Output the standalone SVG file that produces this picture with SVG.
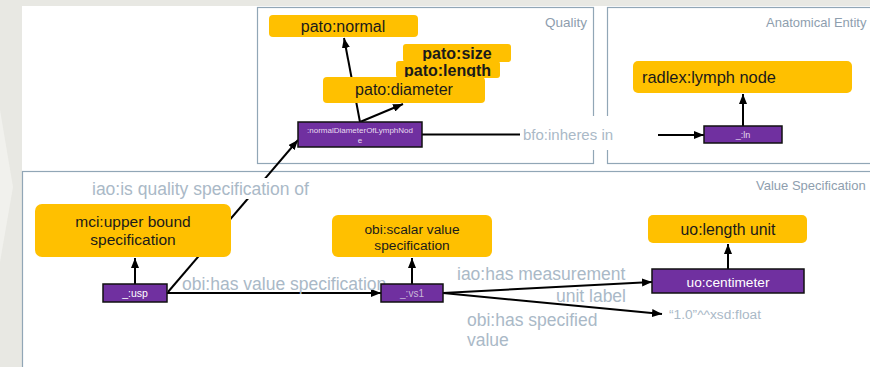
<svg xmlns="http://www.w3.org/2000/svg" width="870" height="367" viewBox="0 0 870 367">
<defs>
<marker id="arr" markerWidth="10" markerHeight="8" refX="10" refY="4" orient="auto" markerUnits="userSpaceOnUse">
<path d="M0,0 L10,4 L0,8 Z" fill="#000"/>
</marker>
<style>
.frame{fill:none;stroke:#91a6b6;stroke-width:1.2}
.title{font-family:"Liberation Sans",Arial,sans-serif;font-size:13.5px;fill:#8e9eae}
.cls{fill:#ffc000}
.ind{fill:#7030a0;stroke:#111;stroke-width:1.5}
.t{font-family:"Liberation Sans",Arial,sans-serif;fill:#1a1a1a;text-anchor:middle}
.w{font-family:"Liberation Sans",Arial,sans-serif;fill:#e8dcf0;text-anchor:middle}
.lbl{font-family:"Liberation Sans",Arial,sans-serif;font-size:17.5px;fill:#aab9c7}
.edge{stroke:#000;stroke-width:2;fill:none}
</style>
</defs>
<rect width="870" height="367" fill="#e8e8e3"/>
<polygon points="0,110 13,187 0,262" fill="#f1f1ed"/>
<rect x="22" y="6" width="848" height="361" fill="#fff"/>

<g id="frames">
<rect class="frame" x="257.5" y="7.5" width="336" height="156"/>
<text class="title" x="587" y="27" text-anchor="end">Quality</text>
<rect class="frame" x="607.5" y="7.5" width="270" height="156"/>
<text class="title" x="766" y="27" style="font-size:13px">Anatomical Entity</text>
<rect class="frame" x="22.5" y="171.5" width="860" height="200"/>
<text class="title" x="756" y="190" style="font-size:13px">Value Specification</text>
</g>

<g id="connectors">
<line class="edge" x1="360" y1="122" x2="344" y2="38" marker-end="url(#arr)"/>
<line class="edge" x1="360" y1="122" x2="403" y2="104" marker-end="url(#arr)"/>
<line class="edge" x1="422" y1="134.5" x2="525" y2="134.5"/>
<line class="edge" x1="658" y1="135" x2="704" y2="135" marker-end="url(#arr)"/>
<line class="edge" x1="743" y1="126" x2="743" y2="94" marker-end="url(#arr)"/>
<line class="edge" x1="168" y1="292" x2="298" y2="140" marker-end="url(#arr)"/>
<line class="edge" x1="135" y1="284" x2="135" y2="258" marker-end="url(#arr)"/>
<line class="edge" x1="167" y1="293" x2="381" y2="293" marker-end="url(#arr)"/>
<line class="edge" x1="412" y1="284" x2="412" y2="258" marker-end="url(#arr)"/>
<line class="edge" x1="443" y1="293" x2="652" y2="282" marker-end="url(#arr)"/>
<line class="edge" x1="443" y1="293" x2="662" y2="314" marker-end="url(#arr)"/>
<line class="edge" x1="728" y1="269" x2="728" y2="244" marker-end="url(#arr)"/>
<rect x="520" y="116" width="92" height="34" fill="#fff"/>
<text class="lbl" x="523" y="140" style="font-size:15px">bfo:inheres in</text>
<rect x="88" y="178" width="226" height="21" fill="#fff"/>
<text class="lbl" x="92" y="195">iao:is quality specification of</text>
<text class="lbl" x="182" y="290">obi:has value specification</text>
<text class="lbl" x="457" y="280">iao:has measurement</text>
<text class="lbl" x="626" y="302" text-anchor="end">unit label</text>
<text class="lbl" x="467" y="326">obi:has specified</text>
<text class="lbl" x="467" y="346">value</text>
<text class="lbl" x="669" y="319" style="font-size:13.7px">“1.0”^^xsd:float</text>
</g>

<g id="pato_normal">
<rect class="cls" x="269" y="15" width="149" height="22" rx="4"/>
<text class="t" x="343" y="32" font-size="16">pato:normal</text>
</g>
<g id="pato_size">
<rect class="cls" x="403" y="44" width="108" height="18" rx="3"/>
<text class="t" x="457" y="59" font-size="16" font-weight="bold">pato:size</text>
</g>
<g id="pato_length">
<rect class="cls" x="396" y="61" width="104" height="17" rx="3"/>
<text class="t" x="447.5" y="75.5" font-size="16" font-weight="bold">pato:length</text>
</g>
<g id="pato_diameter">
<rect class="cls" x="323" y="77" width="162" height="26" rx="4"/>
<text class="t" x="404" y="95" font-size="16">pato:diameter</text>
</g>
<g id="normalDiameterOfLymphNode">
<rect class="ind" x="298" y="122" width="124" height="25"/>
<text class="w" x="360" y="133" font-size="8">:normalDiameterOfLymphNod</text>
<text class="w" x="360" y="143" font-size="8">e</text>
</g>
<g id="radlex_lymph_node">
<rect class="cls" x="633" y="61" width="219" height="32" rx="5"/>
<text class="t" x="642" y="83" font-size="16.4" style="text-anchor:start">radlex:lymph node</text>
</g>
<g id="ln">
<rect class="ind" x="704" y="126" width="78" height="17"/>
<text class="w" x="743" y="138" font-size="9">_:ln</text>
</g>
<g id="upper_bound">
<rect class="cls" x="35" y="204" width="196" height="53" rx="7"/>
<text class="t" x="133" y="227" font-size="15.5">mci:upper bound</text>
<text class="t" x="133" y="245" font-size="15.5">specification</text>
</g>
<g id="usp">
<rect class="ind" x="103" y="284" width="64" height="18"/>
<text class="w" x="135" y="297" font-size="10.5" style="fill:#fff">_:usp</text>
</g>
<g id="scalar_value">
<rect class="cls" x="332" y="215" width="160" height="42" rx="6"/>
<text class="t" x="412" y="234" font-size="13.7">obi:scalar value</text>
<text class="t" x="412" y="250" font-size="13.7">specification</text>
</g>
<g id="vs1">
<rect class="ind" x="381" y="284" width="62" height="18"/>
<text class="w" x="412" y="297" font-size="10" style="fill:#c9b8d8">_:vs1</text>
</g>
<g id="length_unit">
<rect class="cls" x="648" y="215" width="159" height="28" rx="5"/>
<text class="t" x="728" y="235" font-size="15.8">uo:length unit</text>
</g>
<g id="centimeter">
<rect class="ind" x="652" y="269" width="152" height="24"/>
<text class="w" x="728" y="286.5" font-size="13.7" style="fill:#fff">uo:centimeter</text>
</g>
</svg>
